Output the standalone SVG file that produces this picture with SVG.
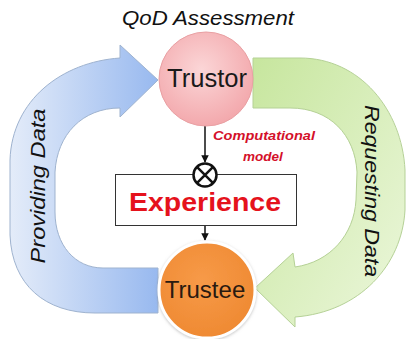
<svg xmlns="http://www.w3.org/2000/svg" width="406" height="339" viewBox="0 0 406 339">
<style>
.lbl{font-family:"Liberation Sans",Arial,sans-serif;}
.it{font-style:italic;}
.conn{stroke:#111;stroke-width:1.5;fill:none;}
</style>
<defs>
<linearGradient id="gBlue" x1="0" y1="0" x2="1" y2="0">
<stop offset="0" stop-color="#e4ecf9"/>
<stop offset="1" stop-color="#98b9ef"/>
</linearGradient>
<linearGradient id="gGreen" x1="0" y1="0" x2="1" y2="1">
<stop offset="0" stop-color="#c7e69e"/>
<stop offset="1" stop-color="#ecf7dc"/>
</linearGradient>
<radialGradient id="gPink" cx="0.45" cy="0.4" r="0.6">
<stop offset="0" stop-color="#fbd6d7"/>
<stop offset="1" stop-color="#f3a9ad"/>
</radialGradient>
<radialGradient id="gOrange" cx="0.45" cy="0.4" r="0.6">
<stop offset="0" stop-color="#f79a48"/>
<stop offset="1" stop-color="#ef8a33"/>
</radialGradient>
<marker id="ah" viewBox="0 0 10 10" refX="9" refY="5" markerWidth="5" markerHeight="5" orient="auto">
<path d="M0,0 L10,5 L0,10 Z" fill="#111"/>
</marker>
<filter id="sh" x="-20%" y="-20%" width="140%" height="140%">
<feDropShadow dx="0" dy="1" stdDeviation="1.5" flood-color="#888" flood-opacity="0.5"/>
</filter>
</defs>

<g id="providing-arrow">
<path d="M120,58 C 62,62 12,100 10,160 L 10,235 C 12,285 45,313 95,313 L 158,313 L 158,268 L 103,268 C 75,268 55,245 55,212 L 55,172 C 57,135 82,108 120,108 L 120,117 L 158,80 L 120,45 Z" fill="url(#gBlue)" stroke="#9fb3cf" stroke-width="1"/>
<text class="lbl it" x="0" y="0" font-size="20" fill="#111" text-anchor="middle" textLength="155" lengthAdjust="spacingAndGlyphs" transform="translate(45,186) rotate(-90)">Providing Data</text>
</g>

<g id="requesting-arrow">
<path d="M253,58 L 300,58 C 360,58 402,110 405,170 L 405,210 C 402,265 360,312 295,317 L 295,327 L 255,288 L 293,253 L 295,267 C 330,262 354,235 356,200 L 357,172 C 355,135 330,108 290,108 L 253,108 Z" fill="url(#gGreen)" stroke="#b5d196" stroke-width="1"/>
<text class="lbl it" x="0" y="0" font-size="20" fill="#111" text-anchor="middle" textLength="172" lengthAdjust="spacingAndGlyphs" transform="translate(365,191) rotate(90)">Requesting Data</text>
</g>

<g id="title">
<text class="lbl it" x="208" y="25" font-size="21" fill="#111" text-anchor="middle" textLength="172" lengthAdjust="spacingAndGlyphs">QoD Assessment</text>
</g>

<g id="connectors">
<line class="conn" x1="205" y1="126" x2="205" y2="162" marker-end="url(#ah)"/>
<line class="conn" x1="205" y1="226" x2="205" y2="240" marker-end="url(#ah)"/>
</g>

<g id="trustor">
<circle cx="206" cy="79" r="47" fill="url(#gPink)" stroke="#e9a0a3" stroke-width="1"/>
<text class="lbl" x="207" y="87" font-size="25" fill="#1a1a1a" text-anchor="middle" textLength="80" lengthAdjust="spacingAndGlyphs">Trustor</text>
</g>

<g id="experience">
<rect x="115.5" y="174.5" width="181" height="51" fill="#fff" stroke="#333" stroke-width="1"/>
<text class="lbl" x="205" y="211" font-size="26" font-weight="bold" fill="#e5121c" text-anchor="middle" textLength="152" lengthAdjust="spacingAndGlyphs">Experience</text>
</g>

<g id="operator">
<circle cx="205" cy="175" r="11.5" fill="#fff" stroke="#111" stroke-width="2.5"/>
<path d="M196.9,166.9 L213.1,183.1 M213.1,166.9 L196.9,183.1" stroke="#111" stroke-width="2.5"/>
</g>

<g id="computational-label">
<text class="lbl it" x="264" y="140" font-size="13.5" font-weight="bold" fill="#d4102a" text-anchor="middle" textLength="102" lengthAdjust="spacingAndGlyphs">Computational</text>
<text class="lbl it" x="263" y="161" font-size="13.5" font-weight="bold" fill="#d4102a" text-anchor="middle">model</text>
</g>

<g id="trustee">
<circle cx="207" cy="290" r="48" fill="url(#gOrange)" stroke="#fff" stroke-width="3" filter="url(#sh)"/>
<text class="lbl" x="205" y="298" font-size="24" fill="#2a1a10" text-anchor="middle">Trustee</text>
</g>
</svg>
